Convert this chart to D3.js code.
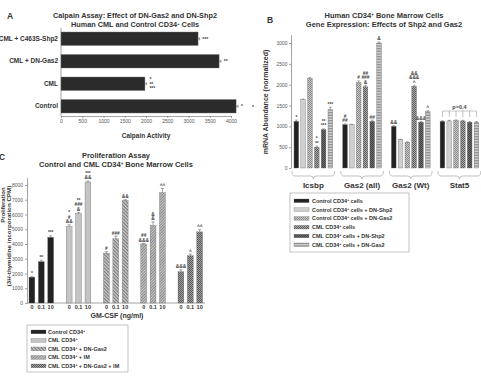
<!DOCTYPE html>
<html>
<head>
<meta charset="utf-8">
<script src="https://cdn.jsdelivr.net/npm/d3@7"></script>
<style>
  body { margin: 0; background: #fff; }
  svg { display: block; font-family: "Liberation Sans", Arial, sans-serif; }
  .axis text { font-size: 5px; fill: #555; font-weight: normal; }
  .axis path, .axis line { stroke: #666; stroke-width: 0.6; }
</style>
</head>
<body>
<svg id="fig" width="481" height="376"></svg>
<script>
// ---- Panel A: calpain assay
const calpainCats = ["CML + C463S-Shp2", "CML + DN-Gas2", "CML", "Control"];
const calpainVals = [3225, 3720, 1975, 4120];
const calpainErr = [30, 40, 35, 45];
const calpainMarks = [["***"], ["**"], ["*", "**", "***"], ["*"]];
const calpainTicks = [0, 500, 1000, 1500, 2000, 2500, 3000, 3500, 4000];

// ---- Panel B: gene expression
const geneGroups = ["Icsbp", "Gas2 (all)", "Gas2 (Wt)", "Stat5"];
const geneSeries = ["Control CD34+ cells", "Control CD34+ cells + DN-Shp2", "Control CD34+ cells + DN-Gas2",
                    "CML CD34+ cells", "CML CD34+ cells + DN-Shp2", "CML CD34+ cells + DN-Gas2"];
const geneVals = [
  [1120, 1640, 2150, 500, 920, 1400],
  [1040, 1040, 2050, 1950, 1120, 3000],
  [1000, 680, 620, 1960, 1100, 1350],
  [1120, 1130, 1140, 1130, 1100, 1100]
];
const geneErr = [
  [30, 15, 25, 25, 20, 60],
  [20, 10, 40, 35, 30, 25],
  [15, 10, 10, 25, 20, 25],
  [15, 15, 15, 15, 15, 15]
];
const geneMarks = [
  [["*"], [], [], ["*", "**"], ["**", "***"], ["***"]],
  [["#", "##"], [], ["#"], ["##", "###", "&"], ["##"], ["&"]],
  [["&&"], [], [], ["&&", "&&&", "^"], ["&&&"], ["^"]],
  [[], [], [], [], [], []]
];
const geneTicks = [0, 500, 1000, 1500, 2000, 2500, 3000];

// ---- Panel C: proliferation assay
const prolifGroups = ["Control CD34+", "CML CD34+", "CML CD34+ + DN-Gas2", "CML CD34+ + IM", "CML CD34+ + DN-Gas2 + IM"];
const doseLabels = ["0", "0.1", "10"];
const prolifVals = [
  [1750, 2800, 4450],
  [5180, 6080, 8200],
  [3380, 4350, 6950],
  [4000, 5250, 7480],
  [2120, 3200, 4820]
];
const prolifErr = [
  [60, 110, 100],
  [120, 60, 70],
  [100, 180, 50],
  [40, 250, 280],
  [130, 120, 150]
];
const prolifMarks = [
  [["*"], ["**"], ["***"]],
  [["*", "#", "&&"], ["**", "###", "&"], ["***", "&&"]],
  [["#"], ["###"], ["&&"]],
  [["##", "&&&"], ["&", "&"], ["^^"]],
  [["&&&"], ["^"], ["^^"]]
];
const prolifTicks = [0, 1000, 2000, 3000, 4000, 5000, 6000, 7000, 8000];

const svg = d3.select("#fig");
const ink = "#2b2b2b";

// patterns for hatched bars
const defs = svg.append("defs");
function checker(id, bg, fg, s) {
  const p = defs.append("pattern").attr("id", id).attr("patternUnits", "userSpaceOnUse")
    .attr("width", s * 2).attr("height", s * 2);
  p.append("rect").attr("width", s * 2).attr("height", s * 2).attr("fill", bg);
  p.append("rect").attr("width", s).attr("height", s).attr("fill", fg);
  p.append("rect").attr("x", s).attr("y", s).attr("width", s).attr("height", s).attr("fill", fg);
}
function stripes(id, bg, fg, s, angle) {
  const p = defs.append("pattern").attr("id", id).attr("patternUnits", "userSpaceOnUse")
    .attr("width", s).attr("height", s).attr("patternTransform", `rotate(${angle})`);
  p.append("rect").attr("width", s).attr("height", s).attr("fill", bg);
  p.append("rect").attr("width", s).attr("height", s / 2).attr("fill", fg);
}
checker("chkLight", "#c8c8c8", "#8a8a8a", 1);
checker("chkMid", "#a8a8a8", "#5e5e5e", 1);
checker("chkDark", "#6a6a6a", "#444", 1);
stripes("hz", "#d6d6d6", "#8c8c8c", 1.6, 0);
stripes("diagA", "#d0d0d0", "#7a7a7a", 2.4, 45);
stripes("diagB", "#c8c8c8", "#8a8a8a", 2, -45);
checker("chkC", "#a0a0a0", "#5a5a5a", 1);

const geneFill = ["#222", "#cfcfcf", "url(#chkLight)", "url(#chkMid)", "url(#chkDark)", "url(#hz)"];
const prolifFill = ["#222", "#c4c4c4", "url(#diagA)", "url(#diagB)", "url(#chkC)"];

// label with superscript "+" after CD34
function labelWithSup(sel, text) {
  const parts = text.split("CD34+");
  parts.forEach((p, i) => {
    sel.append("tspan").text(p + (i < parts.length - 1 ? "CD34" : ""));
    if (i < parts.length - 1) sel.append("tspan").attr("baseline-shift", "super").attr("font-size", "60%").text("+");
  });
}
function marksAbove(g, x, yTop, lines) {
  lines.forEach((m, i) => {
    g.append("text").attr("x", x).attr("y", yTop - (lines.length - 1 - i) * 4.6)
      .attr("text-anchor", "middle").attr("font-size", 4.8).attr("font-weight", "bold")
      .attr("fill", "#444").text(m);
  });
}
function title(x, y, lines, size) {
  lines.forEach((t, i) => {
    const tx = svg.append("text").attr("x", x).attr("y", y + i * 9).attr("text-anchor", "middle")
      .attr("font-size", size).attr("font-weight", "bold").attr("fill", "#333");
    labelWithSup(tx, t);
  });
}

// ================= Panel A =================
const xA = d3.scaleLinear().domain([0, 4000]).range([61, 231]);
const yA = d3.scaleBand().domain(calpainCats).range([27.5, 117.5]).paddingInner(0.4).paddingOuter(0.2);
const gA = svg.append("g");

svg.append("text").attr("x", 7).attr("y", 19).attr("font-size", 8.5).attr("font-weight", "bold").attr("fill", "#333").text("A");
title(135, 18, ["Calpain Assay: Effect of DN-Gas2 and DN-Shp2", "Human CML and Control CD34+ Cells"], 7.3);

gA.append("g").attr("class", "axis").attr("transform", "translate(0,116)")
  .call(d3.axisBottom(xA).tickValues(calpainTicks).tickFormat(d3.format("d")).tickSize(2).tickSizeOuter(0).tickPadding(1.5));
gA.append("g").attr("class", "axis").attr("transform", "translate(61,0)")
  .call(d3.axisLeft(yA).tickSize(0).tickPadding(3))
  .call(g => g.select(".domain").attr("d", "M0,28V116"))
  .selectAll("text").style("font-size", "6.5px").style("font-weight", "bold").style("fill", "#333");

gA.selectAll("rect.bar").data(calpainCats).join("rect")
  .attr("x", xA(0)).attr("y", d => yA(d))
  .attr("width", (d, i) => xA(calpainVals[i]) - xA(0)).attr("height", yA.bandwidth())
  .attr("fill", ink).attr("stroke", "#777").attr("stroke-width", 0.4);
calpainCats.forEach((c, i) => {
  const xe = xA(calpainVals[i]), xe2 = xA(calpainVals[i] + calpainErr[i]);
  const yc = yA(c) + yA.bandwidth() / 2;
  gA.append("path").attr("d", `M${xe},${yc}H${xe2}M${xe2},${yc - 1.5}V${yc + 1.5}`).attr("stroke", "#555").attr("stroke-width", 0.6);
  const lines = calpainMarks[i];
  lines.forEach((m, k) => {
    gA.append("text").attr("x", xe2 + 3).attr("y", yc + 2 + (k - (lines.length - 1) / 2) * 4.6)
      .attr("font-size", 5).attr("font-weight", "bold").attr("fill", "#444").text(m);
  });
});
gA.append("text").attr("x", 146).attr("y", 138).attr("text-anchor", "middle")
  .attr("font-size", 6.5).attr("font-weight", "bold").attr("fill", "#333").text("Calpain Activity");

// ================= Panel B =================
const xB = d3.scaleBand().domain(geneGroups).range([290, 482.8]).paddingInner(0.205).paddingOuter(0.082);
const xBi = d3.scaleBand().domain(d3.range(geneSeries.length)).range([0, xB.bandwidth()]).paddingInner(0.31);
const yB = d3.scaleLinear().domain([0, 3200]).range([168, 34.7]);
const gB = svg.append("g");

svg.append("text").attr("x", 267).attr("y", 23).attr("font-size", 8.5).attr("font-weight", "bold").attr("fill", "#333").text("B");
title(384, 18, ["Human CD34+ Bone Marrow Cells", "Gene Expression: Effects of Shp2 and Gas2"], 7.5);

gB.append("g").attr("class", "axis").attr("transform", "translate(291,0)")
  .call(d3.axisLeft(yB).tickValues(geneTicks).tickFormat(d3.format("d")).tickSize(2).tickSizeOuter(0).tickPadding(1.5));
gB.append("text").attr("transform", "translate(268,102) rotate(-90)").attr("text-anchor", "middle")
  .attr("font-size", 7).attr("font-weight", "bold").attr("fill", "#333").text("mRNA Abundance (normalized)");
gB.append("text").attr("x", 253).attr("y", 109).attr("text-anchor", "middle")
  .attr("font-size", 5).attr("font-weight", "bold").attr("fill", "#444").text("*");

geneGroups.forEach((grp, gi) => {
  const gx = xB(grp);
  geneVals[gi].forEach((v, si) => {
    const x = gx + xBi(si), w = xBi.bandwidth();
    gB.append("rect").attr("x", x).attr("y", yB(v)).attr("width", w).attr("height", yB(0) - yB(v))
      .attr("fill", geneFill[si]).attr("stroke", "#666").attr("stroke-width", 0.35);
    const yt = yB(v + geneErr[gi][si]);
    gB.append("path").attr("d", `M${x + w / 2},${yB(v)}V${yt}M${x + w / 2 - 1.3},${yt}H${x + w / 2 + 1.3}`)
      .attr("stroke", "#555").attr("stroke-width", 0.5);
    marksAbove(gB, x + w / 2, yt - 1.5, geneMarks[gi][si]);
  });
  // brace under group
  const x0 = gx - 2, x1 = gx + xB.bandwidth() + 2, mid = (x0 + x1) / 2;
  gB.append("path")
    .attr("d", `M${x0},171Q${x0},176 ${x0 + 3},176H${mid - 3}Q${mid},176 ${mid},179Q${mid},176 ${mid + 3},176H${x1 - 3}Q${x1},176 ${x1},171`)
    .attr("fill", "none").attr("stroke", "#999").attr("stroke-width", 0.6);
  gB.append("text").attr("x", mid).attr("y", 187.5).attr("text-anchor", "middle")
    .attr("font-size", 8).attr("font-weight", "bold").attr("fill", "#333").text(grp);
});
// p=0.4 bracket over Stat5
{
  const gx = xB("Stat5");
  const cx = d3.range(6).map(i => gx + xBi(i) + xBi.bandwidth() / 2);
  let d = `M${cx[0]},111H${cx[5]}`;
  cx.forEach(c => { d += `M${c},111V117`; });
  gB.append("path").attr("d", d).attr("stroke", "#888").attr("stroke-width", 0.5).attr("fill", "none");
  gB.append("text").attr("x", (cx[0] + cx[5]) / 2).attr("y", 108.5).attr("text-anchor", "middle")
    .attr("font-size", 5.5).attr("font-weight", "bold").attr("fill", "#444").text("p=0.4");
}
// legend B
{
  const lg = gB.append("g");
  lg.append("rect").attr("x", 290).attr("y", 193).attr("width", 119).attr("height", 59)
    .attr("fill", "#fff").attr("stroke", "#999").attr("stroke-width", 0.6);
  geneSeries.forEach((s, i) => {
    const y = 201 + i * 8.8;
    lg.append("rect").attr("x", 294).attr("y", y - 2).attr("width", 15).attr("height", 3.6)
      .attr("fill", geneFill[i]).attr("stroke", "#666").attr("stroke-width", 0.3);
    const t = lg.append("text").attr("x", 312).attr("y", y + 1.8).attr("font-size", 5.5)
      .attr("font-weight", "bold").attr("fill", "#333");
    labelWithSup(t, s);
  });
}

// ================= Panel C =================
const xC = d3.scaleBand().domain(prolifGroups).range([27, 204.6]).paddingInner(0.34).paddingOuter(0.054);
const xCi = d3.scaleBand().domain(doseLabels).range([0, xC.bandwidth()]).paddingInner(0.38);
const yC = d3.scaleLinear().domain([0, 8500]).range([303, 177.6]);
const gC = svg.append("g");

svg.append("text").attr("x", -1).attr("y", 160).attr("font-size", 8.5).attr("font-weight", "bold").attr("fill", "#333").text("C");
title(116, 158, ["Proliferation Assay", "Control and CML CD34+ Bone Marrow Cells"], 7.5);

gC.append("g").attr("class", "axis").attr("transform", "translate(27,0)")
  .call(d3.axisLeft(yC).tickValues(prolifTicks).tickFormat(d3.format("d")).tickSize(2).tickSizeOuter(0).tickPadding(2));
gC.append("g").attr("class", "axis").attr("transform", "translate(0,303)")
  .call(d3.axisBottom(xC).tickSize(0).tickFormat(""))
  .call(g => g.select(".domain").attr("d", "M27,0H205"));
gC.append("text").attr("transform", "translate(4.5,205) rotate(-90)").attr("text-anchor", "middle")
  .attr("font-size", 6).attr("font-weight", "bold").attr("fill", "#333").text("Proliferation");
gC.append("text").attr("transform", "translate(10.5,236) rotate(-90)").attr("text-anchor", "middle")
  .attr("font-size", 6.2).attr("font-weight", "bold").attr("fill", "#333").text("(3H-thymidine incorporation CPM)");

prolifGroups.forEach((grp, gi) => {
  doseLabels.forEach((dl, di) => {
    const v = prolifVals[gi][di];
    const x = xC(grp) + xCi(dl), w = xCi.bandwidth();
    gC.append("rect").attr("x", x).attr("y", yC(v)).attr("width", w).attr("height", yC(0) - yC(v))
      .attr("fill", prolifFill[gi]).attr("stroke", "#666").attr("stroke-width", 0.35);
    const yt = yC(v + prolifErr[gi][di]);
    gC.append("path").attr("d", `M${x + w / 2},${yC(v)}V${yt}M${x + w / 2 - 1.6},${yt}H${x + w / 2 + 1.6}`)
      .attr("stroke", "#555").attr("stroke-width", 0.5);
    marksAbove(gC, x + w / 2, yt - 1.5, prolifMarks[gi][di]);
    gC.append("text").attr("x", x + w / 2).attr("y", 309).attr("text-anchor", "middle")
      .attr("font-size", 5.5).attr("font-weight", "bold").attr("fill", "#333").text(dl);
  });
});
gC.append("text").attr("x", 117).attr("y", 318).attr("text-anchor", "middle")
  .attr("font-size", 7).attr("font-weight", "bold").attr("fill", "#333").text("GM-CSF (ng/ml)");
// legend C
{
  const lg = gC.append("g");
  lg.append("rect").attr("x", 27).attr("y", 325).attr("width", 101).attr("height", 47)
    .attr("fill", "#fff").attr("stroke", "#999").attr("stroke-width", 0.6);
  prolifGroups.forEach((s, i) => {
    const y = 332 + i * 8.5;
    lg.append("rect").attr("x", 31).attr("y", y - 2).attr("width", 15).attr("height", 3.8)
      .attr("fill", prolifFill[i]).attr("stroke", "#666").attr("stroke-width", 0.3);
    const t = lg.append("text").attr("x", 48).attr("y", y + 1.9).attr("font-size", 5.5)
      .attr("font-weight", "bold").attr("fill", "#333");
    labelWithSup(t, s);
  });
}
</script>
</body>
</html>
